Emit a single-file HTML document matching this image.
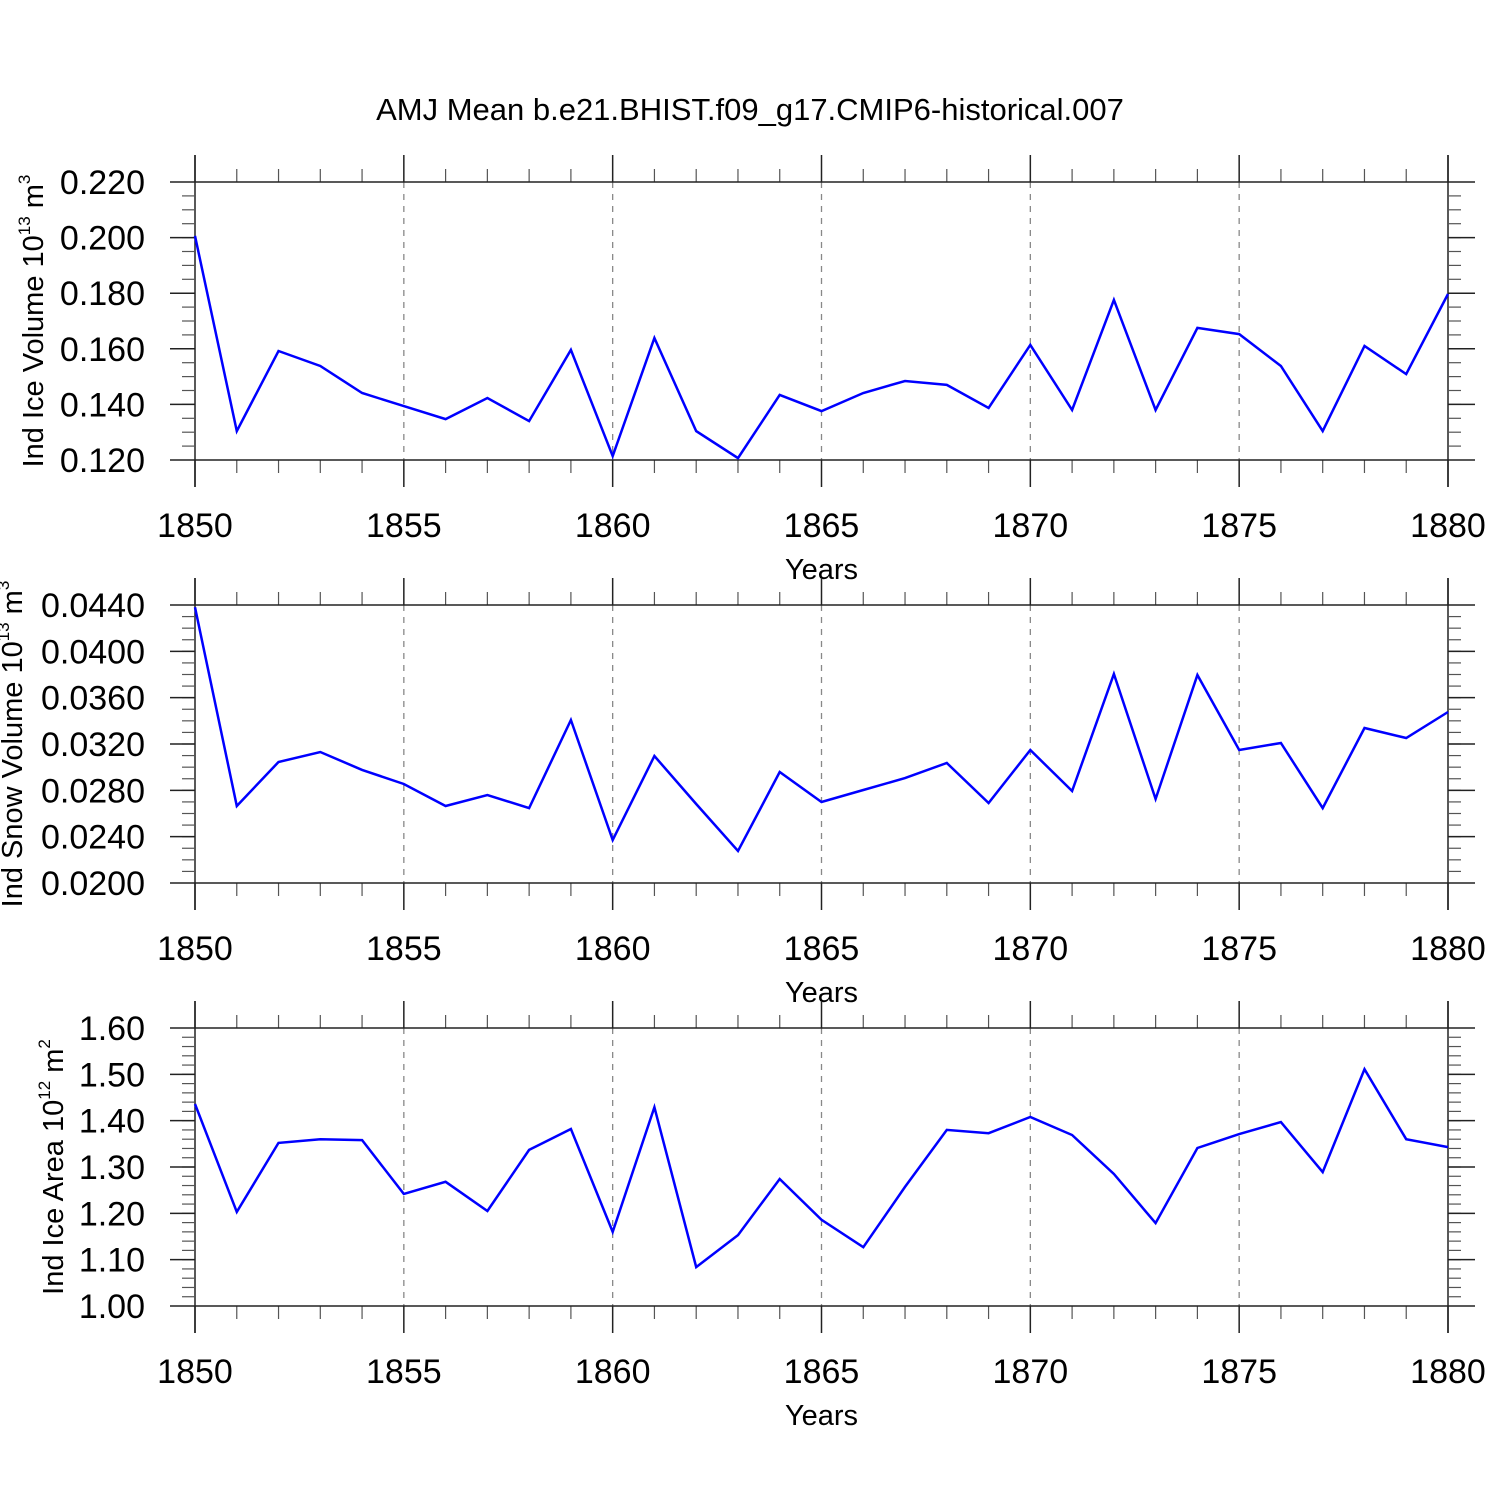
<!DOCTYPE html>
<html><head><meta charset="utf-8"><style>
html,body{margin:0;padding:0;background:#fff}
svg{display:block;font-family:"Liberation Sans",Arial,sans-serif}
</style></head><body>
<svg id="c" width="1500" height="1500" viewBox="0 0 1500 1500">
<text x="750" y="120" font-size="31" text-anchor="middle">AMJ Mean b.e21.BHIST.f09_g17.CMIP6-historical.007</text>
</svg>
<script>
const years = [1850,1851,1852,1853,1854,1855,1856,1857,1858,1859,1860,1861,1862,1863,1864,1865,1866,1867,1868,1869,1870,1871,1872,1873,1874,1875,1876,1877,1878,1879,1880];
const iceVolume = [0.2006,0.1304,0.1592,0.1538,0.1441,0.1394,0.1347,0.1423,0.1340,0.1596,0.1214,0.1639,0.1304,0.1207,0.1434,0.1376,0.1441,0.1484,0.1470,0.1387,0.1614,0.1380,0.1776,0.1380,0.1675,0.1653,0.1538,0.1304,0.1610,0.1509,0.1797];
const snowVolume = [0.0438,0.02665,0.03045,0.03131,0.02976,0.02855,0.02665,0.0276,0.02647,0.03407,0.02371,0.03096,0.02682,0.02276,0.02958,0.02699,0.02803,0.02906,0.03036,0.02691,0.03148,0.02794,0.03804,0.02725,0.03796,0.03148,0.03209,0.02647,0.03338,0.03252,0.03476];
const iceArea = [1.436,1.203,1.352,1.360,1.358,1.242,1.268,1.205,1.337,1.382,1.160,1.429,1.084,1.153,1.274,1.186,1.127,1.257,1.380,1.373,1.408,1.369,1.285,1.179,1.341,1.371,1.397,1.289,1.511,1.360,1.343];
const xTicks = [1850,1855,1860,1865,1870,1875,1880];
const p1Ticks = ["0.120","0.140","0.160","0.180","0.200","0.220"];
const p2Ticks = ["0.0200","0.0240","0.0280","0.0320","0.0360","0.0400","0.0440"];
const p3Ticks = ["1.00","1.10","1.20","1.30","1.40","1.50","1.60"];

const svg=document.getElementById('c');
const NS='http://www.w3.org/2000/svg';
function mk(tag,attrs,parent){const e=document.createElementNS(NS,tag);for(const k in attrs)e.setAttribute(k,attrs[k]);(parent||svg).appendChild(e);return e;}
const X0=195,X1=1448;
function xs(y){return X0+(y-1850)/30*(X1-X0);}

function panel(top,vals,ticks,ymin,ymax,minorStep,name,labelX,labelMain,sup,unitSup){
  const bot=top+278;
  const ys=v=>bot-(v-ymin)/(ymax-ymin)*278;
  const g=mk('g',{});
  
  
  for(const t of xTicks){ if(t===1850||t===1880)continue;
    const l=mk('line',{x1:xs(t),x2:xs(t),y1:top,y2:bot,stroke:'#888','stroke-width':1.3,'stroke-dasharray':'6,6'},g);
    }
  for(let yr=1850;yr<=1880;yr++){ if(yr%5===0)continue;
    mk('line',{x1:xs(yr),x2:xs(yr),y1:top-13,y2:top,stroke:'#555','stroke-width':1.2},g);
    mk('line',{x1:xs(yr),x2:xs(yr),y1:bot,y2:bot+13,stroke:'#555','stroke-width':1.2},g);}
  for(const t of xTicks){
    mk('line',{x1:xs(t),x2:xs(t),y1:top-27,y2:top,stroke:'#222','stroke-width':1.5},g);
    mk('line',{x1:xs(t),x2:xs(t),y1:bot,y2:bot+27,stroke:'#222','stroke-width':1.5},g);
    const tx=mk('text',{x:xs(t),y:bot+77,'font-size':34,'text-anchor':'middle'},g);
    tx.textContent=t;}
  mk('line',{x1:X0,x2:X0,y1:top-27,y2:bot+27,stroke:'#222','stroke-width':1.5},g);
  mk('line',{x1:X1,x2:X1,y1:top-27,y2:bot+27,stroke:'#222','stroke-width':1.5},g);
  const nMin=Math.round((ymax-ymin)/minorStep);
  for(let i=1;i<nMin;i++){const v=ymin+i*minorStep;const y=ys(v);
    mk('line',{x1:X0-13,x2:X0,y1:y,y2:y,stroke:'#555','stroke-width':1.2},g);
    mk('line',{x1:X1,x2:X1+13,y1:y,y2:y,stroke:'#555','stroke-width':1.2},g);}
  ticks.forEach((t,i)=>{const y=ys(parseFloat(t));
    mk('line',{x1:X0-25,x2:X0,y1:y,y2:y,stroke:'#222','stroke-width':1.5},g);
    mk('line',{x1:X1,x2:X1+27,y1:y,y2:y,stroke:'#222','stroke-width':1.5},g);
    if(i===0||i===ticks.length-1) mk('line',{x1:X0,x2:X1,y1:y,y2:y,stroke:'#222','stroke-width':1.5},g);
    const tx=mk('text',{x:X0-50,y:y+12,'font-size':34,'text-anchor':'end'},g);
    tx.textContent=t;});
  const pts=vals.map((v,i)=>xs(years[i]).toFixed(1)+','+ys(v).toFixed(1)).join(' ');
  const pl=mk('polyline',{points:pts,fill:'none',stroke:'#0000ff','stroke-width':2.5,'stroke-linejoin':'miter'},g);
  
  const xt=mk('text',{x:(X0+X1)/2,y:bot+119,'font-size':29,'text-anchor':'middle'},g);
  xt.textContent='Years';
  const cy=(top+bot)/2;
  const yt=mk('text',{x:0,y:0,'font-size':29,'text-anchor':'middle',transform:`translate(${labelX},${cy}) rotate(-90)`},g);
  
  const a=mk('tspan',{},yt);a.textContent=labelMain+' 10';
  const b=mk('tspan',{'font-size':17,dy:-13},yt);b.textContent=sup;
  const c=mk('tspan',{dy:13},yt);c.textContent=' m';
  const d=mk('tspan',{'font-size':17,dy:-13},yt);d.textContent=unitSup;
}
panel(182,iceVolume,p1Ticks,0.12,0.22,0.005,'ice-volume',43,'Ind Ice Volume','13','3');
panel(605,snowVolume,p2Ticks,0.02,0.044,0.001,'snow-volume',22,'Ind Snow Volume','13','3');
panel(1028,iceArea,p3Ticks,1.0,1.6,0.02,'ice-area',63,'Ind Ice Area','12','2');
</script>
</body></html>
